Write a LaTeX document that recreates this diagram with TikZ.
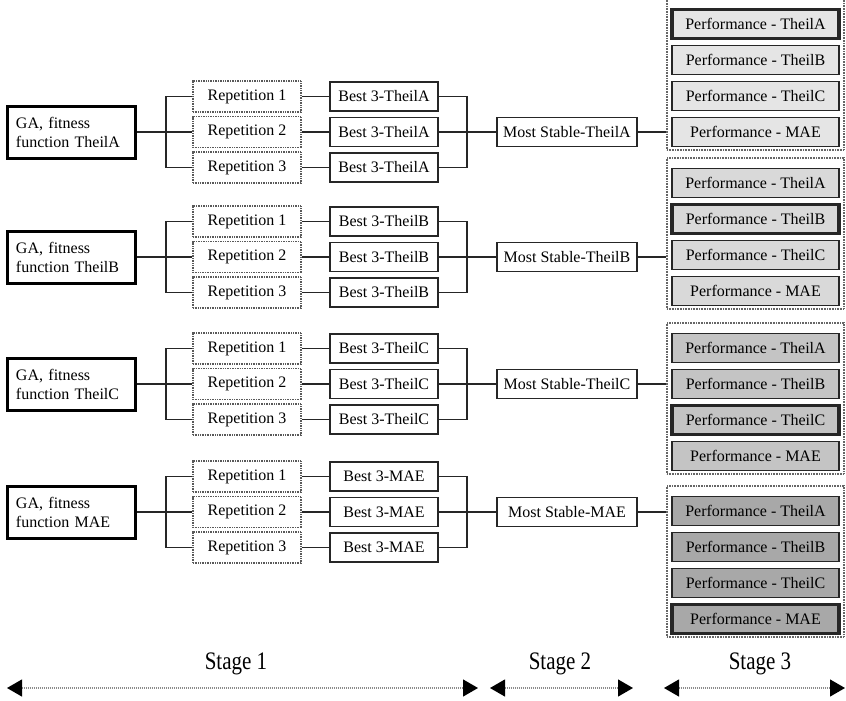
\documentclass[tikz,border=0pt]{standalone}
\usepackage{fontspec}
\setmainfont{Liberation Serif}
\usetikzlibrary{arrows.meta}
\begin{document}
\begin{tikzpicture}[x=1pt,y=-1pt,
  txt/.style={font=\fontsize{16}{19}\selectfont},
  box/.style={txt, draw=black!85, line width=1.6pt, fill=white, inner sep=0pt, minimum height=29pt},
  gabox/.style={txt, draw=black, line width=3pt, fill=white, minimum width=128pt, minimum height=52pt,
    text width=110pt, inner xsep=9pt, inner ysep=0pt, align=left},
  repbox/.style={box, draw=black!65, line width=1.3pt, dash pattern=on 1pt off 0.7pt,
    minimum width=108pt, minimum height=31pt},
  bestbox/.style={box, minimum width=108pt},
  msbox/.style={box, minimum width=140pt},
  perfbox/.style={box, minimum width=167pt, minimum height=29pt},
  panel/.style={draw=black!60, line width=1.2pt, dash pattern=on 0.8pt off 0.8pt,
    minimum width=177pt, inner sep=0pt},
  link/.style={draw=black!85, line width=1.3pt},
  stagearrow/.style={draw=black!45, line width=1.2pt, dash pattern=on 1pt off 1pt,
    {Triangle[length=15pt,width=17pt,color=black]}-{Triangle[length=15pt,width=17pt,color=black]}},
  stagelabel/.style={font=\fontsize{21}{26}\selectfont}
]
\useasboundingbox (0,0) rectangle (846,701);

% one row of the process per fitness function
\foreach \k/\m/\lab/\pf/\shade/\sel in {
    1/132/TheilA/24/10/1,
    2/257/TheilB/183/15/2,
    3/384/TheilC/348/23/3,
    4/512/MAE/511/34/4}{
  % stage 1: GA runs and their best three
  \node[gabox] (ga\k) at (71,\m) {GA, fitness\\function \lab};
  \foreach \j/\d in {1/-35.5,2/0,3/35.5}{
    \node[repbox] (rep\k\j) at (247,\m+\d) {Repetition \j};
    \node[bestbox] (best\k\j) at (384,\m+\d) {Best 3-\lab};
    \draw[link] (rep\k\j.east) -- (best\k\j.west);
  }
  \coordinate (lb\k) at (166,\m);
  \draw[link] (ga\k.east) -- (lb\k);
  \draw[link] (rep\k1.west) -| (lb\k) |- (rep\k3.west);
  \draw[link] (lb\k) -- (rep\k2.west);
  % stage 2: most stable solution
  \node[msbox] (ms\k) at (567,\m) {Most Stable-\lab};
  \coordinate (rb\k) at (467,\m);
  \draw[link] (best\k1.east) -| (rb\k) |- (best\k3.east);
  \draw[link] (best\k2.east) -- (ms\k.west);
  % stage 3: evaluation with every measure
  \node[panel, minimum height=151pt] (pan\k) at (755.5,\pf+50.5) {};
  \draw[link] (ms\k.east) -- (ms\k.east -| pan\k.west);
  \foreach \i/\t in {1/TheilA,2/TheilB,3/TheilC,4/MAE}{
    \pgfmathsetmacro\lw{\i==\sel ? 3.2 : 1.8}
    \node[perfbox, fill=black!\shade, line width=\lw pt] (perf\k\i) at (755.5,\pf+36*\i-36)
      {Performance - \t};
  }
}

% stage markers along the bottom
\coordinate (s1l) at (7,688);   \coordinate (s1r) at (478,688);
\coordinate (s2l) at (490,688); \coordinate (s2r) at (633,688);
\coordinate (s3l) at (664,688); \coordinate (s3r) at (845,688);
\draw[stagearrow] (s1l) -- (s1r);
\draw[stagearrow] (s2l) -- (s2r);
\draw[stagearrow] (s3l) -- (s3r);
\node[stagelabel] (st1) at (236,664) {\scalebox{1}[1.2]{Stage 1}};
\node[stagelabel] (st2) at (560,664) {\scalebox{1}[1.2]{Stage 2}};
\node[stagelabel] (st3) at (760,664) {\scalebox{1}[1.2]{Stage 3}};
\end{tikzpicture}
\end{document}
